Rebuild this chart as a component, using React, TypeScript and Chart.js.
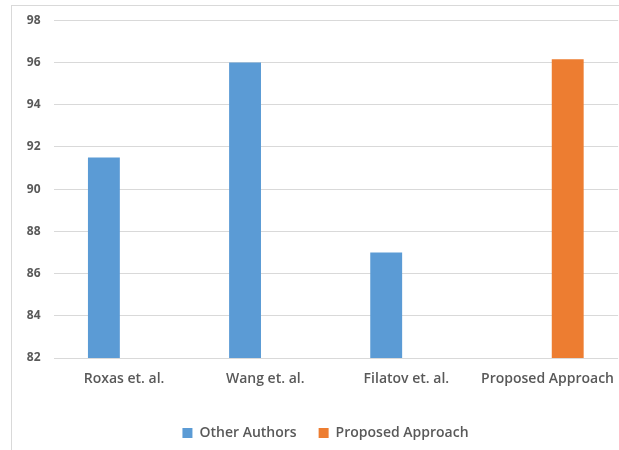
import React, { useEffect, useRef } from "react";
import { Chart, registerables } from "chart.js";

Chart.register(...registerables);

const categories = ["Roxas et. al.", "Wang et. al.", "Filatov et. al.", "Proposed Approach"];
const otherAuthors = [91.5, 96, 87, null];
const proposedApproach = [null, null, null, 96.15];
const yMin = 82;
const yMax = 98;
const yStep = 2;

const FONT = "'Open Sans', 'Liberation Sans', sans-serif";
const TEXT = "#595959";

const legendShift = {
  id: "legendShift",
  afterLayout(chart: any) {
    const lg = chart.legend;
    if (lg) {
      lg.left += 16;
      lg.right += 16;
    }
  },
};

export default function App() {
  const ref = useRef<HTMLCanvasElement | null>(null);
  useEffect(() => {
    if (!ref.current) return;
    const chart = new Chart(ref.current, {
      type: "bar",
      data: {
        labels: categories,
        datasets: [
          {
            label: "Other Authors",
            data: otherAuthors as any,
            backgroundColor: "#5B9BD5",
            categoryPercentage: 0.572,
            barPercentage: 0.79,
          },
          {
            label: "Proposed Approach",
            data: proposedApproach as any,
            backgroundColor: "#ED7D31",
            categoryPercentage: 0.572,
            barPercentage: 0.79,
          },
        ],
      },
      plugins: [legendShift],
      options: {
        animation: false,
        responsive: false,
        maintainAspectRatio: false,
        layout: { padding: { top: 15, right: 0, left: 0, bottom: 0 } },
        plugins: {
          tooltip: { enabled: false },
          legend: {
            position: "bottom",
            labels: {
              boxWidth: 10,
              boxHeight: 10,
              color: TEXT,
              padding: 22,
              font: { family: FONT, size: 14, weight: "600" as any },
            },
          },
        },
        scales: {
          x: {
            grid: { display: false },
            border: { display: false },
            ticks: {
              color: TEXT,
              padding: 5,
              maxRotation: 0,
              font: { family: FONT, size: 14, weight: "600" as any },
            },
            afterFit: (s: any) => {
              s.height = 46;
            },
          },
          y: {
            min: yMin,
            max: yMax,
            grid: { color: "#d9d9d9", drawTicks: false, lineWidth: 1 },
            border: { display: false },
            ticks: {
              stepSize: yStep,
              color: TEXT,
              padding: 13,
              font: { family: FONT, size: 12, weight: "700" as any },
            },
            afterFit: (s: any) => {
              s.width = 53.5;
            },
          },
        },
      },
    });
    return () => chart.destroy();
  }, []);
  return (
    <div style={{ position: "fixed", left: 0, top: 0, width: 619, height: 450, background: "#fff" }}>
      <div
        style={{
          position: "absolute",
          left: 11,
          top: 5,
          right: -2,
          bottom: -2,
          borderLeft: "1px solid #d9d9d9",
          borderTop: "1px solid #d9d9d9",
        }}
      />
      <canvas ref={ref} width={619} height={450} style={{ position: "absolute", left: 0, top: 0 }} />
    </div>
  );
}
